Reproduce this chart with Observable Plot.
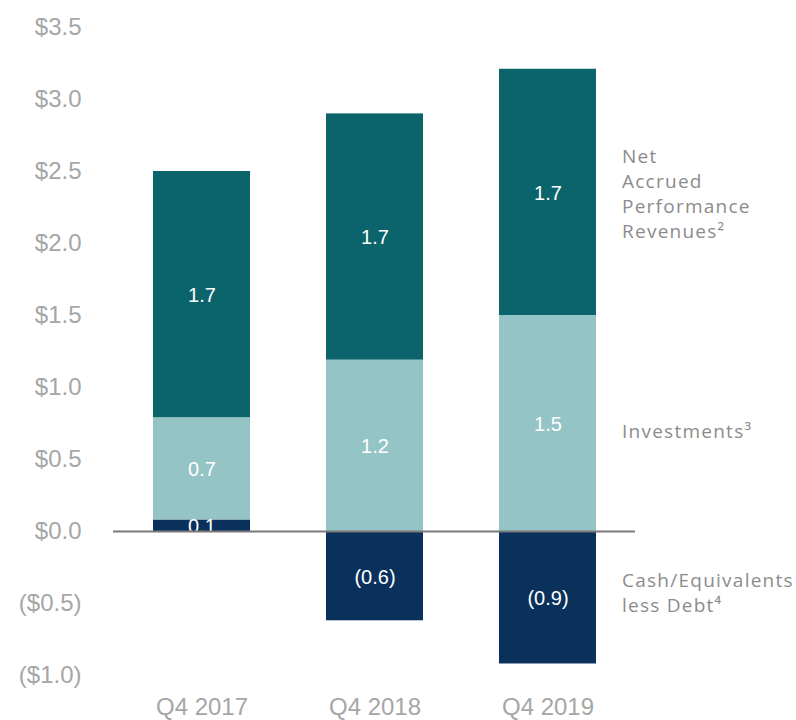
<!DOCTYPE html>
<html>
<head>
<meta charset="utf-8">
<script src="https://cdn.jsdelivr.net/npm/d3@7"></script>
<script src="https://cdn.jsdelivr.net/npm/@observablehq/plot@0.6"></script>
<style>
  html, body { margin: 0; padding: 0; background: #ffffff; }
  #chart svg { display: block; }
  .legend-text text { letter-spacing: 1.25px; }
</style>
</head>
<body>
<div id="chart"></div>
<script>
const quarters = ["Q4 2017", "Q4 2018", "Q4 2019"];
const seriesNames = ["Cash/Equivalents less Debt", "Investments", "Net Accrued Performance Revenues"];
const legendLabels = ["Cash/Equivalents\nless Debt\u2074", "Investments\u00b3", "Net\nAccrued\nPerformance\nRevenues\u00b2"];
const cashValues = [0.08, -0.62, -0.92];
const investmentValues = [0.71, 1.19, 1.5];
const performanceValues = [1.71, 1.71, 1.71];
const yTicks = [-1, -0.5, 0, 0.5, 1, 1.5, 2, 2.5, 3, 3.5];
const seriesColors = ["#0a315c", "#94c4c5", "#0b636b"];
const legendShift = [-6, 6, 0];

const valuesBySeries = [cashValues, investmentValues, performanceValues];
const rows = [];
quarters.forEach((q, i) => {
  seriesNames.forEach((s, j) => {
    rows.push({quarter: q, series: s, value: valuesBySeries[j][i], legend: legendLabels[j]});
  });
});

const fmtBar = v => v < 0 ? `(${Math.abs(v).toFixed(1)})` : v.toFixed(1);
const fmtAxis = v => v < 0 ? `($${Math.abs(v).toFixed(1)})` : `$${v.toFixed(1)}`;
const lastQuarter = quarters[quarters.length - 1];
const lastRows = rows.filter(d => d.quarter === lastQuarter);

const legendMarks = seriesNames.map((s, j) =>
  Plot.text(lastRows, Plot.stackY({
    x: "quarter", y: "value", text: d => d.series === s ? d.legend : null,
    textAnchor: "start", dx: 74, dy: legendShift[j], fill: "#8c8c8c",
    fontFamily: "'Open Sans', sans-serif", fontSize: 19, lineHeight: 1.32,
    className: "legend-text"
  }))
);

const chart = Plot.plot({
  width: 796,
  height: 720,
  marginLeft: 76,
  marginRight: 122,
  marginTop: 27,
  marginBottom: 45,
  style: {fontFamily: "'Liberation Sans', Arial, sans-serif", background: "#ffffff"},
  x: {domain: quarters, padding: 0.437, axis: null, label: null},
  y: {domain: [-1, 3.5], axis: null, label: null},
  color: {domain: seriesNames, range: seriesColors},
  marks: [
    Plot.barY(rows, Plot.stackY({x: "quarter", y: "value", fill: "series"})),
    Plot.text(rows, Plot.stackY({
      x: "quarter", y: "value", text: d => fmtBar(d.value),
      fill: "#ffffff", fontSize: 20, dy: 1
    })),
    Plot.ruleY([0], {stroke: "#7a7a7a", strokeWidth: 2, insetLeft: 37, insetRight: 39}),
    ...legendMarks,
    Plot.axisY({ticks: yTicks, tickFormat: fmtAxis, tickSize: 0, tickPadding: -5,
      fontSize: 24, fill: "#a6a6a6", label: null}),
    Plot.axisX({tickSize: 0, tickPadding: 22, fontSize: 24, fill: "#a6a6a6", label: null})
  ]
});
document.getElementById("chart").appendChild(chart);
</script>
</body>
</html>
